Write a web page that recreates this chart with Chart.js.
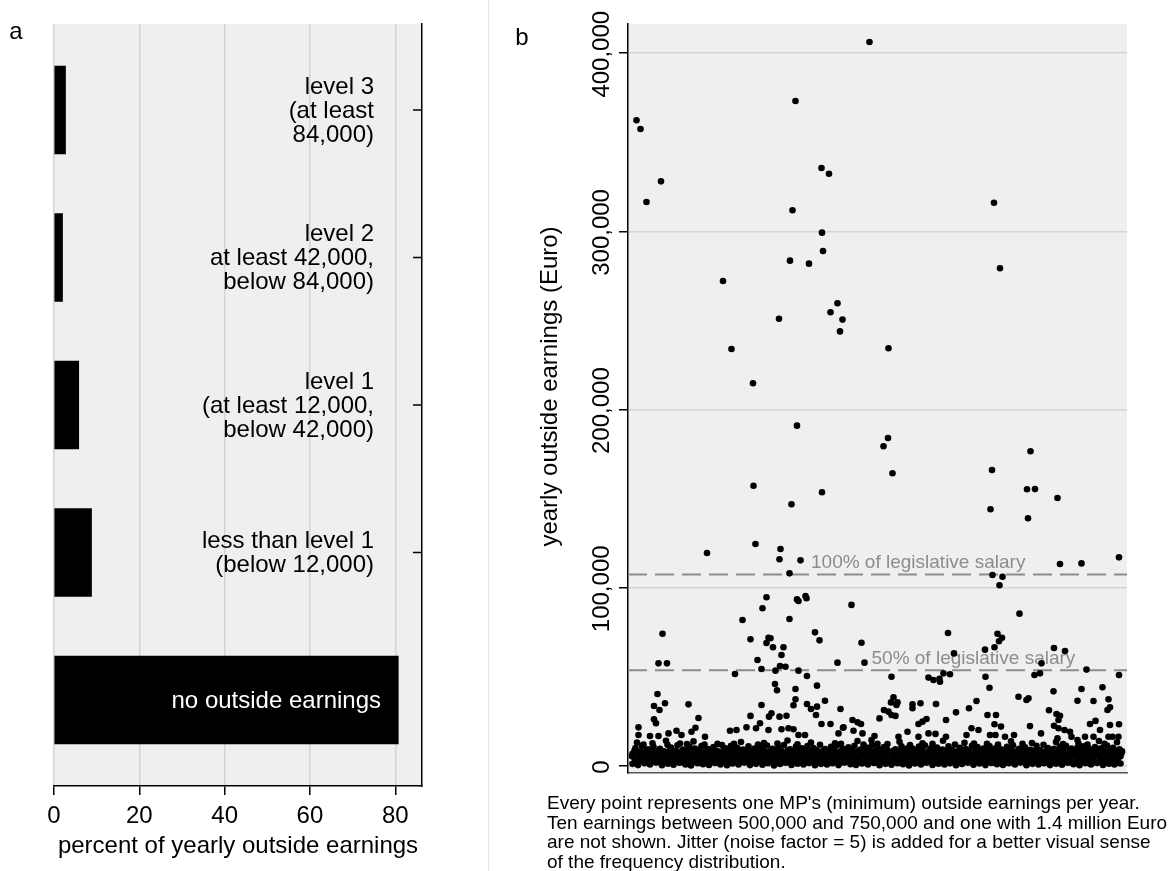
<!DOCTYPE html>
<html>
<head>
<meta charset="utf-8">
<script src="https://cdn.jsdelivr.net/npm/chart.js@4.4.1/dist/chart.umd.min.js"></script>
<style>
  html, body { margin: 0; padding: 0; background: #fff; }
  #wrap { position: relative; width: 1174px; height: 871px; overflow: hidden; }
  #left { position: absolute; left: 0; top: 0; }
  #divider { position: absolute; left: 488px; top: 0; width: 1px; height: 871px; background: #e9e9e9; }
  #right { position: absolute; left: 489px; top: 0; }
</style>
</head>
<body>
<div id="wrap">
  <canvas id="left" width="488" height="871"></canvas>
  <div id="divider"></div>
  <canvas id="right" width="685" height="871"></canvas>
</div>
<script>
// ---------- panel a: share of yearly outside earnings by disclosure level ----------
const categories = [
  ['level 3', '(at least', '84,000)'],
  ['level 2', 'at least 42,000,', 'below 84,000)'],
  ['level 1', '(at least 12,000,', 'below 42,000)'],
  ['less than level 1', '(below 12,000)'],
  ['no outside earnings']
];
const shares = [2.7, 2.0, 5.8, 8.8, 80.7];          // percent
const shareTicks = [0, 20, 40, 60, 80];

// ---------- panel b: yearly outside earnings per MP (thousand Euro) ----------
const earningTicksK = [0, 100, 200, 300, 400];
const legislativeSalaryK = 107.424;
const salaryShares = [1, 0.5];
const salaryLabels = ['100% of legislative salary', '50% of legislative salary'];

// [jittered position, earnings in thousand Euro]
const highEarnersK = [
  [48.3,406.3],[33.5,373.2],[1.7,362.4],[2.5,357.5],[6.6,328.1],[3.7,316.5],[38.7,335.6],[40.2,332.4],
  [73.2,316.1],[32.9,311.9],[38.8,299.3],[39.0,289.0],[32.4,283.6],[36.2,281.9],[74.4,279.3],
  [19.0,272.2],[41.9,259.7],[40.5,254.6],[30.2,251.0],[42.9,250.5],[42.4,243.9],[20.7,234.0],[52.1,234.4],
  [25.0,214.8],[33.8,191.0],[52.0,184.1],[51.1,179.4],[52.9,164.3],[80.5,176.6],[72.8,166.1],[25.1,157.3],
  [38.8,153.6],[79.8,155.3],[81.4,155.4],[85.9,150.4],[32.7,146.9],[72.5,144.1],[80.0,139.0],
  [15.8,119.5],[25.5,124.6],[30.5,121.8],[30.3,116.0],[34.5,115.4],[32.3,108.1],[86.4,113.4],[90.7,113.7],
  [98.2,117.1],[72.9,107.2],[74.9,106.2],[74.3,101.4]
];
const midEarnersK = [
  [27.7,94.7],[26.9,88.5],[33.8,93.5],[34.1,92.6],[35.5,95.4],[35.7,94.1],[22.9,81.9],[32.3,82.5],[44.7,90.4],
  [24.5,71.1],[28.1,72.0],[28.5,71.7],[27.7,69.0],[29.0,66.6],[31.1,66.6],[37.4,75.0],[38.3,70.5],[46.7,69.2],
  [6.9,74.2],[64.0,74.6],[65.2,63.2],[78.3,85.5],[73.9,74.2],[74.8,72.0],[74.2,70.0],[73.3,66.6],[71.4,65.3],
  [85.2,66.2],[87.4,64.5],[30.7,62.3],[25.9,59.5],
  [6.1,57.6],[7.8,57.6],[41.9,58.0],[47.3,58.0],[30.4,56.1],[31.5,55.7],[26.7,54.4],[29.5,53.5],[34.1,53.5],
  [21.4,51.6],[35.8,50.5],[52.7,50.1],[60.1,49.6],[61.1,48.3],[62.3,49.0],[62.4,47.3],[63.1,52.0],[64.4,51.5],
  [71.5,50.1],[72.3,43.9],[81.3,51.1],[82.4,52.0],[82.7,57.6],[91.7,54.1],[98.2,51.1],
  [5.9,40.4],[5.2,33.7],[6.3,31.4],[7.4,35.2],[5.2,26.2],[5.6,24.0],[12.1,34.6],[14.1,26.9],[29.4,46.0],
  [29.8,42.5],[26.7,34.2],[33.5,43.2],[33.5,37.4],[33.1,34.1],[35.8,34.8],[36.6,32.0],[37.8,33.3],[37.8,45.1],
  [39.4,36.6],[37.6,28.6],[42.5,32.0],[24.5,28.1],[28.2,27.7],[28.7,29.6],[30.3,27.7],[31.7,28.2],[26.4,24.0],
  [38.7,23.6],[40.5,23.6],[44.9,25.8],[45.9,24.5],[46.6,23.6],[43.0,21.5],
  [50.3,26.7],[51.2,31.4],[52.1,30.5],[52.7,28.6],[53.5,28.1],[53.1,38.6],[52.6,35.7],[53.9,35.7],[53.7,34.2],
  [56.9,34.6],[56.9,32.4],[58.5,35.2],[61.6,34.8],[63.6,25.8],[65.6,30.1],[58.1,23.6],[58.9,24.9],[59.7,26.4],
  [68.2,32.4],[69.7,36.5],[71.9,28.6],[73.6,28.6],[73.3,23.4],[74.6,22.1],[78.1,38.9],[79.7,37.0],[80.1,38.0],
  [80.4,22.4],[85.1,41.9],[84.2,31.3],[85.7,29.2],[86.4,28.2],[86.1,25.8],[85.2,22.6],[86.1,21.2],[87.3,20.2],
  [88.4,19.2],[90.7,43.2],[89.9,36.6],[93.1,36.5],[94.9,44.2],[96.1,37.4],[96.4,32.9],[95.9,31.4],[92.4,23.6],
  [93.5,25.3],[96.4,23.0],[98.2,23.4],[77.2,17.4],
  [2.1,21.7],[2.1,17.4],[4.4,16.8],[6.1,16.8],[8.1,18.3],[9.7,19.8],[10.7,17.4],[12.7,19.2],[13.5,21.5],
  [15.4,16.4],[20.4,19.8],[21.7,20.2],[23.7,21.7],[25.6,21.2],[28.1,20.2],[30.7,20.6],[32.1,21.2],[33.1,20.6],
  [35.4,17.4],[34.1,17.4],[42.1,18.3],[43.1,21.7],[45.1,19.8],[46.9,18.3],[48.7,14.6],[49.3,16.8],[54.1,16.4],
  [55.9,19.2],[58.1,16.4],[60.1,18.3],[61.5,18.0],[63.6,16.4],[67.7,17.4],[68.7,21.2],[70.1,20.2],[72.4,17.4],
  [73.5,17.4],[75.4,16.4],[82.6,18.3],[85.9,15.5],[88.7,16.4],[89.9,14.6],[91.4,16.4],[93.1,16.4],[94.4,20.2],
  [96.1,16.4],[96.9,16.4],[98.1,16.4]
];
const lowEarnersK = [
  [0.9,1.2],[2.0,0.5],[3.3,1.6],[4.4,0.8],[5.6,1.9],[6.8,0.4],[8.0,1.3],[9.1,0.7],[10.3,1.8],[11.5,0.9],
  [12.6,0.3],[13.9,1.5],[15.0,1.0],[16.2,0.6],[17.4,1.7],[18.5,0.9],[19.8,0.4],[20.9,1.4],[22.1,0.8],[23.3,1.9],
  [24.4,0.5],[25.6,1.2],[26.9,0.7],[28.0,1.6],[29.2,0.3],[30.4,1.1],[31.5,1.8],[32.7,0.6],[33.9,1.3],[35.1,0.9],
  [36.2,1.7],[37.4,0.4],[38.6,1.2],[39.8,0.8],[40.9,1.5],[42.1,0.5],[43.3,1.9],[44.5,1.0],[45.6,0.6],[46.8,1.4],
  [48.0,0.9],[49.2,1.7],[50.3,0.4],[51.5,1.2],[52.7,0.7],[53.9,1.6],[55.0,1.0],[56.2,0.3],[57.4,1.4],[58.6,0.8],
  [59.7,1.8],[60.9,0.6],[62.1,1.3],[63.3,0.9],[64.4,1.6],[65.6,0.4],[66.8,1.1],[68.0,1.8],[69.1,0.7],[70.3,1.4],
  [71.5,0.5],[72.7,1.7],[73.8,1.0],[75.0,0.6],[76.2,1.5],[77.4,0.8],[78.5,1.9],[79.7,0.4],[80.9,1.2],[82.1,0.9],
  [83.2,1.6],[84.4,0.5],[85.6,1.3],[86.8,0.7],[87.9,1.8],[89.1,1.0],[90.3,0.4],[91.5,1.5],[92.6,0.8],[93.8,1.7],
  [95.0,0.6],[96.2,1.3],[97.3,0.9],[98.5,1.4],
  [1.5,2.4],[2.6,2.9],[3.8,2.1],[5.1,2.7],[6.3,2.3],[7.4,2.8],[8.5,2.0],[9.7,2.6],[10.9,2.2],[12.0,2.9],
  [13.3,2.4],[14.4,2.1],[15.6,2.7],[16.8,2.3],[18.0,2.8],[19.1,2.5],[20.3,2.0],[21.5,2.7],[22.7,2.3],[23.8,2.9],
  [25.0,2.2],[26.2,2.6],[27.4,2.4],[28.6,2.9],[29.8,2.1],[30.9,2.7],[32.1,2.3],[33.3,2.8],[34.5,2.0],[35.7,2.5],
  [36.8,2.9],[38.0,2.2],[39.2,2.6],[40.4,2.4],[41.5,2.8],[42.7,2.1],[43.9,2.7],[45.1,2.3],[46.2,2.9],[47.4,2.0],
  [48.6,2.6],[49.8,2.4],[50.9,2.8],[52.1,2.2],[53.3,2.7],[54.5,2.3],[55.6,2.9],[56.8,2.1],[58.0,2.6],[59.2,2.4],
  [60.3,2.8],[61.5,2.0],[62.7,2.7],[63.9,2.3],[65.0,2.9],[66.2,2.2],[67.4,2.6],[68.6,2.4],[69.7,2.8],[70.9,2.1],
  [72.1,2.7],[73.3,2.3],[74.4,2.9],[75.6,2.0],[76.8,2.5],[78.0,2.8],[79.1,2.2],[80.3,2.6],[81.5,2.4],[82.7,2.9],
  [83.8,2.1],[85.0,2.7],[86.2,2.3],[87.4,2.8],[88.5,2.0],[89.7,2.6],[90.9,2.4],[92.1,2.9],[93.2,2.2],[94.4,2.7],
  [95.6,2.3],[96.8,2.8],[97.9,2.1],
  [1.4,3.6],[2.7,4.4],[3.9,3.1],[5.0,4.8],[6.2,3.4],[7.4,4.2],[8.6,3.0],[9.7,4.6],[10.9,3.7],[12.1,4.9],
  [13.2,3.3],[14.5,4.1],[15.6,3.8],[16.8,4.7],[18.0,3.2],[19.1,4.3],[20.3,3.6],[21.5,4.9],[22.7,3.1],[23.9,4.0],
  [25.0,4.6],[26.2,3.4],[27.4,4.2],[28.6,3.7],[29.8,4.8],[30.9,3.2],[32.1,4.4],[33.3,3.9],[34.5,4.7],[35.6,3.3],
  [36.8,4.1],[38.0,3.6],[39.2,4.9],[40.3,3.0],[41.5,4.3],[42.7,3.8],[43.9,4.6],[45.0,3.4],[46.2,4.0],[47.4,4.8],
  [48.6,3.2],[49.7,4.5],[50.9,3.7],[52.1,4.1],[53.3,3.3],[54.4,4.9],[55.6,3.6],[56.8,4.3],[58.0,3.1],[59.1,4.7],
  [60.3,3.9],[61.5,4.2],[62.7,3.4],[63.8,4.8],[65.0,3.7],[66.2,4.4],[67.4,3.2],[68.5,4.6],[69.7,3.8],[70.9,4.1],
  [72.1,3.3],[73.2,4.9],[74.4,3.6],[75.6,4.2],[76.8,3.0],[77.9,4.5],[79.1,3.9],[80.3,4.7],[81.5,3.4],[82.7,4.0],
  [83.8,4.8],[85.0,3.5],[86.2,4.3],[87.4,3.8],[88.5,4.6],[89.7,3.1],[90.9,4.4],[92.1,3.7],[93.2,4.9],[94.4,3.3],
  [95.6,4.1],[96.8,3.6],[98.0,4.5],
  [0.8,5.4],[2.1,5.9],[3.2,5.2],[4.5,5.7],[5.6,5.1],[6.9,5.8],[8.0,5.3],[9.2,5.9],[10.4,5.5],[11.6,5.2],
  [12.7,5.8],[13.9,5.4],[15.1,5.9],[16.3,5.1],[17.4,5.6],[18.6,5.3],[19.8,5.9],[21.0,5.5],[22.1,5.2],[23.3,5.8],
  [24.5,5.4],[25.7,5.9],[26.8,5.1],[28.0,5.7],[29.2,5.3],[30.4,5.9],[31.5,5.5],[32.7,5.2],[33.9,5.8],[35.1,5.4],
  [36.2,5.9],[37.4,5.1],[38.6,5.6],[39.8,5.3],[40.9,5.9],[42.1,5.5],[43.3,5.2],[44.5,5.8],[45.6,5.4],[46.8,5.9],
  [48.0,5.1],[49.2,5.7],[50.3,5.3],[51.5,5.9],[52.7,5.5],[53.9,5.2],[55.0,5.8],[56.2,5.4],[57.4,5.9],[58.6,5.1],
  [59.7,5.6],[60.9,5.3],[62.1,5.9],[63.3,5.5],[64.4,5.2],[65.6,5.8],[66.8,5.4],[68.0,5.9],[69.1,5.1],[70.3,5.7],
  [71.5,5.3],[72.7,5.9],[73.8,5.5],[75.0,5.2],[76.2,5.8],[77.4,5.4],[78.5,5.9],[79.7,5.1],[80.9,5.6],[82.1,5.3],
  [83.2,5.9],[84.4,5.5],[85.6,5.2],[86.8,5.8],[87.9,5.4],[89.1,5.9],[90.3,5.1],[91.5,5.7],[92.6,5.3],[93.8,5.9],
  [95.0,5.5],[96.2,5.2],[97.3,5.8],[98.5,5.4],
  [0.9,6.8],[2.2,7.6],[3.4,6.3],[4.6,7.9],[5.8,6.6],[7.0,7.3],[8.1,6.1],[9.3,7.8],[10.5,6.9],[11.7,7.4],
  [12.9,6.2],[14.0,7.7],[15.2,6.7],[16.4,7.1],[17.6,6.4],[18.7,7.9],[19.9,6.8],[21.1,7.5],[22.3,6.3],[23.4,7.2],
  [24.6,6.9],[25.8,7.8],[27.0,6.5],[28.1,7.3],[29.3,6.1],[30.5,7.6],[31.7,6.8],[32.9,7.4],[34.0,6.3],[35.2,7.9],
  [36.4,6.7],[37.6,7.2],[38.7,6.4],[39.9,7.7],[41.1,6.9],[42.3,7.3],[43.4,6.2],[44.6,7.8],[45.8,6.6],[47.0,7.5],
  [48.1,6.3],[49.3,7.1],[50.5,6.8],[51.7,7.9],[52.9,6.4],[54.0,7.3],[55.2,6.9],[56.4,7.6],[57.6,6.2],[58.7,7.4],
  [59.9,6.7],[61.1,7.8],[62.3,6.5],[63.4,7.2],[64.6,6.1],[65.8,7.7],[67.0,6.8],[68.1,7.3],[69.3,6.4],[70.5,7.9],
  [71.7,6.6],[72.9,7.5],[74.0,6.3],[75.2,7.1],[76.4,6.9],[77.6,7.8],[78.7,6.4],[79.9,7.3],[81.1,6.7],[82.3,7.6],
  [83.4,6.2],[84.6,7.4],[85.8,6.9],[87.0,7.7],[88.1,6.5],[89.3,7.2],[90.5,6.3],[91.7,7.9],[92.9,6.8],[94.0,7.4],
  [95.2,6.4],[96.4,7.6],[97.6,6.9],[98.7,7.3],
  [1.3,8.6],[2.5,8.2],[3.7,8.9],[4.9,8.4],[6.1,8.7],[7.2,8.3],[8.4,8.9],[9.6,8.5],[10.8,8.2],[11.9,8.8],
  [13.1,8.4],[14.3,8.9],[15.5,8.3],[16.6,8.7],[17.8,8.5],[19.0,8.2],[20.2,8.8],[21.3,8.4],[22.5,8.9],[23.7,8.6],
  [24.9,8.3],[26.0,8.8],[27.2,8.5],[28.4,8.2],[29.6,8.9],[30.7,8.4],[31.9,8.7],[33.1,8.3],[34.3,8.9],[35.4,8.5],
  [36.6,8.2],[37.8,8.8],[39.0,8.4],[40.1,8.9],[41.3,8.6],[42.5,8.3],[43.7,8.8],[44.8,8.5],[46.0,8.2],[47.2,8.9],
  [48.4,8.4],[49.5,8.7],[50.7,8.3],[51.9,8.9],[53.1,8.5],[54.2,8.2],[55.4,8.8],[56.6,8.4],[57.8,8.9],[58.9,8.6],
  [60.1,8.3],[61.3,8.8],[62.5,8.5],[63.6,8.2],[64.8,8.9],[66.0,8.4],[67.2,8.7],[68.3,8.3],[69.5,8.9],[70.7,8.5],
  [71.9,8.2],[73.0,8.8],[74.2,8.4],[75.4,8.9],[76.6,8.6],[77.7,8.3],[78.9,8.8],[80.1,8.5],[81.3,8.2],[82.4,8.9],
  [83.6,8.4],[84.8,8.7],[86.0,8.3],[87.1,8.9],[88.3,8.5],[89.5,8.2],[90.7,8.8],[91.8,8.4],[93.0,8.9],[94.2,8.6],
  [95.4,8.3],[96.5,8.8],[97.7,8.5],[98.8,8.2],
  [1.5,10.1],[2.8,11.3],[4.0,9.4],[5.1,10.8],[6.4,9.7],[8.6,10.4],[9.9,11.6],[11.0,9.2],[12.3,10.9],[13.4,9.8],
  [14.7,11.2],[16.0,9.5],[17.1,10.6],[19.5,9.9],[20.6,11.4],[21.8,10.2],[23.0,9.3],[24.1,11.0],[25.3,9.8],[26.6,10.7],
  [27.8,11.5],[28.9,9.6],[30.1,10.3],[31.2,11.8],[32.4,9.4],[33.6,10.9],[34.8,9.9],[35.9,11.2],[37.1,10.1],[39.4,9.5],
  [40.6,10.8],[41.8,11.6],[43.0,9.7],[44.1,10.5],[45.3,11.3],[46.5,9.2],[47.7,10.4],[48.8,11.7],[50.0,9.8],[51.2,10.6],
  [53.5,9.4],[54.7,11.1],[55.9,10.0],[57.0,9.6],[58.2,10.9],[59.4,11.5],[60.6,9.9],[61.8,10.3],[62.9,9.3],[64.1,11.0],
  [66.4,10.2],[67.6,9.5],[68.8,11.4],[69.9,10.6],[71.1,9.8],[72.3,11.2],[73.5,10.0],[74.6,9.4],[75.8,10.8],[77.0,11.6],
  [78.2,9.7],[79.4,10.5],[80.5,9.1],[81.7,11.3],[84.0,10.1],[85.2,9.6],[86.4,10.9],[87.6,11.4],[88.7,9.8],[89.9,10.4],
  [91.1,11.1],[92.3,9.5],[93.4,10.7],[94.6,9.9],[95.8,11.5],[97.0,10.2],[98.3,9.4],
  [3.1,12.1],[7.9,11.9],[11.8,12.3],[15.3,12.0],[18.8,11.8],[21.2,12.4],[26.0,12.1],[29.9,12.6],[33.9,12.2],[38.4,11.9],
  [42.6,12.5],[47.1,12.0],[51.9,12.3],[56.4,11.8],[60.9,12.4],[65.4,12.0],[69.2,12.6],[74.0,12.1],[78.9,12.5],[83.1,11.9],
  [87.0,12.3],[91.9,12.0],[95.3,12.4],
  [1.8,13.2],[4.9,12.8],[7.6,14.1],[10.4,12.6],[13.1,13.8],[17.9,12.4],[22.6,13.5],[27.2,12.9],[31.9,14.3],[36.6,13.1],
  [41.4,12.7],[45.9,14.0],[49.9,12.5],[54.3,13.6],[58.9,12.8],[63.0,14.2],[67.3,13.0],[71.8,12.4],[76.6,13.9],[80.8,12.9],
  [85.6,13.4],[90.1,12.6],[94.2,14.0],[97.8,13.3]
];
const footnote = [
  "Every point represents one MP's (minimum) outside earnings per year.",
  'Ten earnings between 500,000 and 750,000 and one with 1.4 million Euro',
  'are not shown. Jitter (noise factor = 5) is added for a better visual sense',
  'of the frequency distribution.'
];

// ---------- shared drawing helpers ----------
const FONT = "'Liberation Sans', Arial, sans-serif";
const LABEL_SIZE = 24;
Chart.defaults.font.family = FONT;
Chart.defaults.color = '#000';

const plotBackground = {
  id: 'plotBackground',
  beforeDraw(chart) {
    const { ctx, chartArea: a } = chart;
    ctx.save();
    ctx.fillStyle = '#efefef';
    ctx.fillRect(a.left, a.top, a.right - a.left, a.bottom - a.top);
    ctx.restore();
  }
};

// category labels sit inside the plot, right-aligned against the right-hand axis
const categoryLabels = {
  id: 'categoryLabels',
  afterDraw(chart) {
    const { ctx, chartArea: a, scales: { y } } = chart;
    ctx.save();
    ctx.font = `${LABEL_SIZE}px ${FONT}`;
    ctx.textAlign = 'right';
    ctx.textBaseline = 'middle';
    const last = categories.length - 1;
    categories.forEach((lines, i) => {
      const cy = y.getPixelForValue(i);
      const onBar = i === last;
      ctx.fillStyle = onBar ? '#fff' : '#000';
      const xr = a.right - (onBar ? 41 : 48);
      lines.forEach((t, k) => ctx.fillText(t, xr, cy + 1 + (k - (lines.length - 1) / 2) * 24));
      if (!onBar) {
        ctx.strokeStyle = '#000';
        ctx.lineWidth = 1.5;
        ctx.beginPath();
        ctx.moveTo(a.right - 9, cy);
        ctx.lineTo(a.right, cy);
        ctx.stroke();
      }
    });
    ctx.fillStyle = '#000';
    ctx.textAlign = 'center';
    ctx.fillText('a', 16, 32);
    ctx.restore();
  }
};

new Chart(document.getElementById('left'), {
  type: 'bar',
  data: {
    datasets: [{
      data: shares.map((v, i) => ({ x: v, y: i })),
      backgroundColor: '#000',
      borderWidth: 0,
      barThickness: 88
    }]
  },
  options: {
    indexAxis: 'y',
    responsive: false,
    animation: false,
    devicePixelRatio: 1,
    layout: { padding: { left: 54, top: 24, right: 0, bottom: 0 } },
    plugins: { legend: { display: false }, tooltip: { enabled: false } },
    scales: {
      x: {
        type: 'linear', position: 'bottom', min: 0, max: 86.26,
        afterBuildTicks: s => { s.ticks = shareTicks.map(v => ({ value: v })); },
        afterFit: s => { s.height = 85; },
        grid: { color: '#d4d4d4', lineWidth: 1.5, tickLength: 9, tickColor: '#000', tickWidth: 1.5 },
        border: { color: '#000', width: 1.5 },
        ticks: { color: '#000', font: { size: LABEL_SIZE }, padding: 7 },
        title: {
          display: true, text: 'percent of yearly outside earnings', color: '#000',
          font: { size: LABEL_SIZE }, padding: { top: 10, bottom: 10 }
        }
      },
      y: {
        type: 'linear', position: 'right', reverse: true, min: -0.583, max: 4.583,
        offset: false,
        afterBuildTicks: s => { s.ticks = categories.map((c, i) => ({ value: i })); },
        afterFit: s => { s.width = 66; },
        grid: { display: true, drawOnChartArea: false, drawTicks: false, offset: false },
        border: { color: '#000', width: 1.5 },
        ticks: { display: false }
      }
    }
  },
  plugins: [plotBackground, categoryLabels]
});

// ---------- panel b ----------
const X_MIN = 0, X_MAX = 99.8;
const salaryLabelAt = [36.6, 48.7];

const earningsText = {
  id: 'earningsText',
  beforeDatasetsDraw(chart) {
    const { ctx, scales: { x, y } } = chart;
    ctx.save();
    ctx.font = `19px ${FONT}`;
    ctx.fillStyle = '#8c8c8c';
    ctx.textAlign = 'left';
    ctx.textBaseline = 'middle';
    salaryShares.forEach((s, i) => {
      const py = y.getPixelForValue(legislativeSalaryK * s);
      ctx.fillText(salaryLabels[i], x.getPixelForValue(salaryLabelAt[i]), py - 12);
    });
    ctx.restore();
  },
  afterDraw(chart) {
    const { ctx, chartArea: a, scales: { y } } = chart;
    ctx.save();
    ctx.fillStyle = '#000';
    ctx.font = `${LABEL_SIZE}px ${FONT}`;
    ctx.textAlign = 'center';
    ctx.textBaseline = 'middle';
    y.ticks.forEach(t => {
      ctx.save();
      ctx.translate(a.left - 26, y.getPixelForValue(t.value) + 1);
      ctx.rotate(-Math.PI / 2);
      ctx.fillText((t.value * 1000).toLocaleString('en-US'), 0, 0);
      ctx.restore();
    });
    ctx.save();
    ctx.translate(a.left - 78, (a.top + a.bottom) / 2 - 12);
    ctx.rotate(-Math.PI / 2);
    ctx.fillText('yearly outside earnings (Euro)', 0, 0);
    ctx.restore();
    ctx.fillText('b', 33, 38);

    ctx.font = `19px ${FONT}`;
    ctx.textAlign = 'left';
    footnote.forEach((line, k) => ctx.fillText(line, a.left - 81, a.bottom + 31 + k * 19.5));
    ctx.restore();
  }
};

const earningPoints = [...highEarnersK, ...midEarnersK, ...lowEarnersK].map(([x, y]) => ({ x, y }));

new Chart(document.getElementById('right'), {
  type: 'scatter',
  data: {
    datasets: [
      {
        data: earningPoints,
        pointRadius: 3.3,
        pointBackgroundColor: '#000',
        pointBorderWidth: 0,
        order: 1
      },
      ...salaryShares.map(s => ({
        type: 'line',
        data: [{ x: X_MIN, y: legislativeSalaryK * s }, { x: X_MAX, y: legislativeSalaryK * s }],
        borderColor: '#8c8c8c',
        borderWidth: 2,
        borderDash: [19, 8],
        pointRadius: 0,
        order: 2
      }))
    ]
  },
  options: {
    responsive: false,
    animation: false,
    devicePixelRatio: 1,
    layout: { padding: { left: 0, top: 24, right: 47, bottom: 0 } },
    plugins: { legend: { display: false }, tooltip: { enabled: false } },
    scales: {
      x: {
        type: 'linear', min: X_MIN, max: X_MAX,
        afterFit: s => { s.height = 98; },
        ticks: { display: false },
        grid: { display: false },
        border: { color: '#555', width: 1.5 }
      },
      y: {
        type: 'linear', min: -3.93, max: 416.4,
        afterBuildTicks: s => { s.ticks = earningTicksK.map(v => ({ value: v })); },
        afterFit: s => { s.width = 139; },
        ticks: { display: false },
        grid: { color: '#d4d4d4', lineWidth: 1.5, tickLength: 9, tickColor: '#000', tickWidth: 1.5 },
        border: { color: '#000', width: 1.5 }
      }
    }
  },
  plugins: [plotBackground, earningsText]
});
</script>
</body>
</html>
